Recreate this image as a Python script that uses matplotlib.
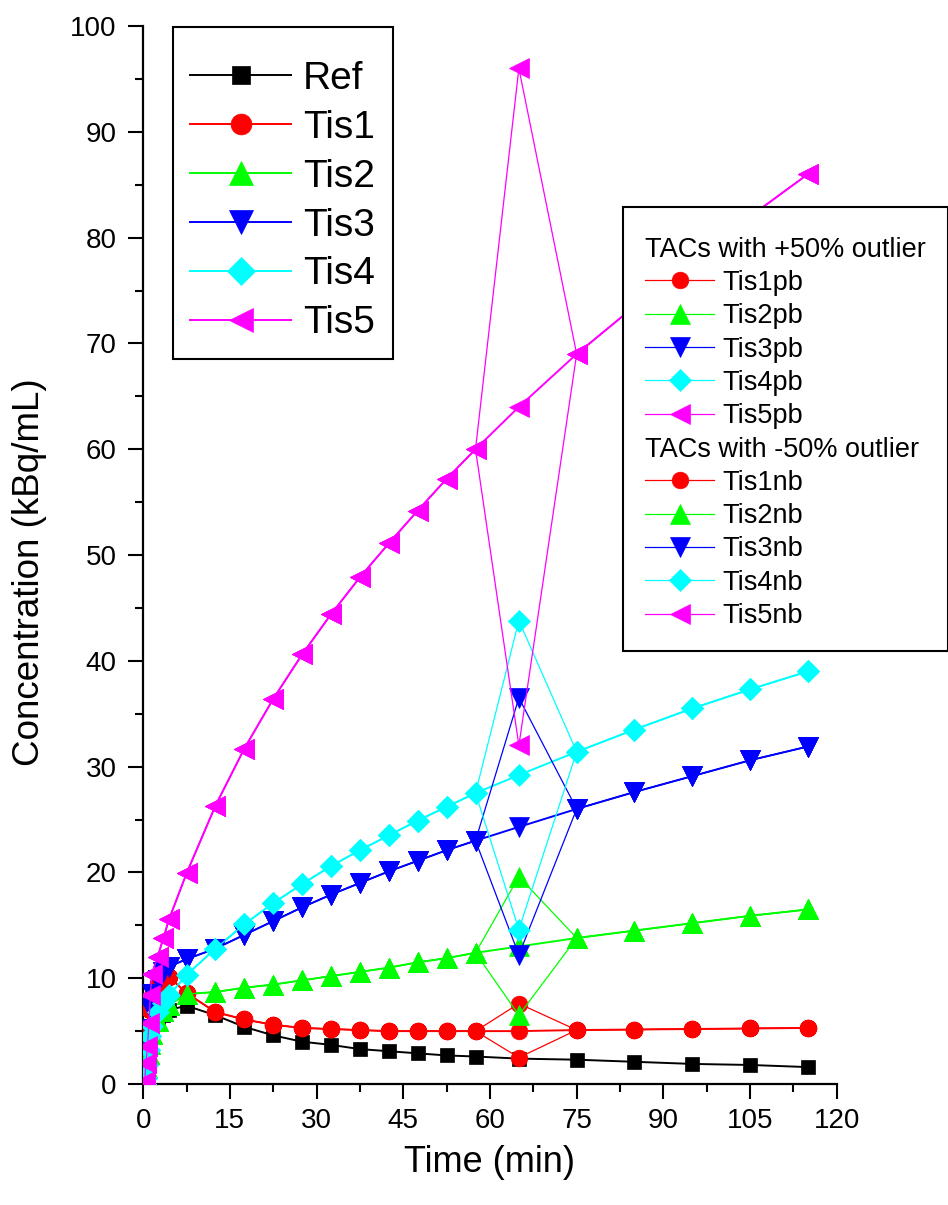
import matplotlib
matplotlib.use("Agg")
import matplotlib.pyplot as plt
from matplotlib.lines import Line2D
from matplotlib.ticker import MultipleLocator

plt.rcParams["font.family"] = ["Liberation Sans", "DejaVu Sans"]

# frame mid times (min)
times = [0.25, 0.5, 0.75, 1.0, 1.25, 1.5, 2.5, 3.5, 4.5, 7.5, 12.5, 17.5, 22.5,
         27.5, 32.5, 37.5, 42.5, 47.5, 52.5, 57.5, 65, 75, 85, 95, 105, 115]

ref = [0.0, 0.3, 1.5, 2.8, 3.8, 4.6, 5.8, 6.5, 7.0, 7.4, 6.5, 5.4, 4.6,
       4.0, 3.7, 3.3, 3.1, 2.9, 2.7, 2.6, 2.4, 2.3, 2.1, 1.9, 1.8, 1.6]
tis1 = [0.1, 1.0, 2.8, 5.0, 7.0, 8.3, 9.5, 9.9, 10.1, 8.6, 6.8, 6.1, 5.6,
        5.3, 5.2, 5.1, 5.0, 5.0, 5.0, 5.0, 5.0, 5.1, 5.15, 5.2, 5.25, 5.3]
tis2 = [0.0, 0.5, 1.5, 2.8, 3.8, 4.7, 6.0, 6.9, 7.5, 8.5, 8.7, 9.1, 9.4,
        9.8, 10.2, 10.6, 11.0, 11.5, 11.9, 12.4, 13.0, 13.8, 14.5, 15.2, 15.9, 16.5]
tis3 = [0.1, 1.2, 3.0, 5.2, 7.2, 8.5, 9.8, 10.6, 11.1, 11.8, 12.8, 14.1, 15.4,
        16.7, 17.9, 19.0, 20.1, 21.1, 22.1, 23.0, 24.3, 26.0, 27.6, 29.1, 30.6, 31.9]
tis4 = [0.0, 0.6, 1.8, 3.2, 4.5, 5.5, 6.8, 7.7, 8.4, 10.3, 12.8, 15.1, 17.1,
        18.9, 20.6, 22.1, 23.5, 24.9, 26.2, 27.5, 29.2, 31.4, 33.5, 35.5, 37.3, 39.0]
tis5 = [0.3, 2.0, 3.6, 5.8, 8.4, 10.4, 12.0, 13.8, 15.6, 19.9, 26.3, 31.7, 36.4,
        40.6, 44.4, 47.9, 51.1, 54.2, 57.2, 60.0, 64.0, 69.0, 73.5, 77.8, 82.0, 86.0]

# outlier frame and its values (+50% / -50%)
outlier_time = 65
pb_values = [7.6, 19.6, 36.5, 43.8, 96.0]
nb_values = [2.5, 6.5, 12.2, 14.6, 32.0]

names = ["Ref", "Tis1", "Tis2", "Tis3", "Tis4", "Tis5"]
series = [ref, tis1, tis2, tis3, tis4, tis5]
colors = ["black", "#FF0000", "#00FF00", "#0000FF", "#00FFFF", "#FF00FF"]
markers = ["s", "o", "^", "v", "D", "<"]
msizes = [10.5, 12, 14, 14, 11, 14]

fig = plt.figure(figsize=(9.48, 12.05), dpi=100)
ax = fig.add_axes([0.151, 0.1004, 0.7317, 0.878])

main_handles = []
for name, y, c, m, ms in zip(names, series, colors, markers, msizes):
    h, = ax.plot(times, y, color=c, lw=1.4, marker=m, ms=ms, mfc=c, mec=c,
                 mew=0.5, label=name, zorder=3)
    main_handles.append(h)

k = times.index(outlier_time)
pb_handles = []
nb_handles = []
for i in range(1, 6):
    y = list(series[i])
    y[k] = pb_values[i - 1]
    h, = ax.plot(times, y, color=colors[i], lw=0.9, marker=markers[i],
                 ms=msizes[i], mfc=colors[i], mec=colors[i], mew=0.5,
                 label=names[i] + "pb", zorder=4)
    pb_handles.append(h)
for i in range(1, 6):
    y = list(series[i])
    y[k] = nb_values[i - 1]
    h, = ax.plot(times, y, color=colors[i], lw=0.9, marker=markers[i],
                 ms=msizes[i], mfc=colors[i], mec=colors[i], mew=0.5,
                 label=names[i] + "nb", zorder=5)
    nb_handles.append(h)

ax.set_xlim(0, 120)
ax.set_ylim(0, 100)
ax.xaxis.set_major_locator(MultipleLocator(15))
ax.xaxis.set_minor_locator(MultipleLocator(7.5))
ax.yaxis.set_major_locator(MultipleLocator(10))
ax.yaxis.set_minor_locator(MultipleLocator(5))
ax.spines["top"].set_visible(False)
ax.spines["right"].set_visible(False)
for s in ["left", "bottom"]:
    ax.spines[s].set_linewidth(1.6)
ax.tick_params(which="major", direction="out", length=11, width=1.5,
               labelsize=20, pad=6)
ax.tick_params(which="minor", direction="out", length=6, width=1.5)
ax.tick_params(axis="y", which="major", pad=8)
ax.set_xlabel("Time (min)", fontsize=26, labelpad=8)
ax.set_ylabel("Concentration (kBq/mL)", fontsize=26.5)
ax.yaxis.set_label_coords(-0.138, 0.484)

leg1 = ax.legend(handles=main_handles, loc="upper left",
                 bbox_to_anchor=(0.1822, 0.9778), bbox_transform=fig.transFigure,
                 borderaxespad=0, fontsize=28, markerscale=1.25,
                 handlelength=2.6, handletextpad=0.3, labelspacing=0.33,
                 borderpad=0.45, fancybox=False, framealpha=1,
                 edgecolor="black", title=" ", title_fontsize=2)
leg1.get_frame().set_linewidth(1.5)
ax.add_artist(leg1)

blank = Line2D([], [], linestyle="none", marker="none")
handles2 = [blank] + pb_handles + [blank] + nb_handles
labels2 = (["TACs with +50% outlier"] + [h.get_label() for h in pb_handles]
           + ["TACs with -50% outlier"] + [h.get_label() for h in nb_handles])
leg2 = ax.legend(handles2, labels2, loc="upper left",
                 bbox_to_anchor=(0.6575, 0.8285), bbox_transform=fig.transFigure,
                 borderaxespad=0, fontsize=19.5, handlelength=2.55,
                 handletextpad=0.3, labelspacing=0.27, borderpad=0.8,
                 fancybox=False, framealpha=1, edgecolor="black",
                 title=" ", title_fontsize=1)
leg2.get_frame().set_linewidth(1.5)
leg2.set_zorder(10)

# header rows: no handle space
rows = leg2._legend_handle_box.get_children()[0].get_children()
for idx in (0, 6):
    rows[idx].sep = 0
    rows[idx].get_children()[0].width = 0

fig.savefig("out.png", dpi=100)
